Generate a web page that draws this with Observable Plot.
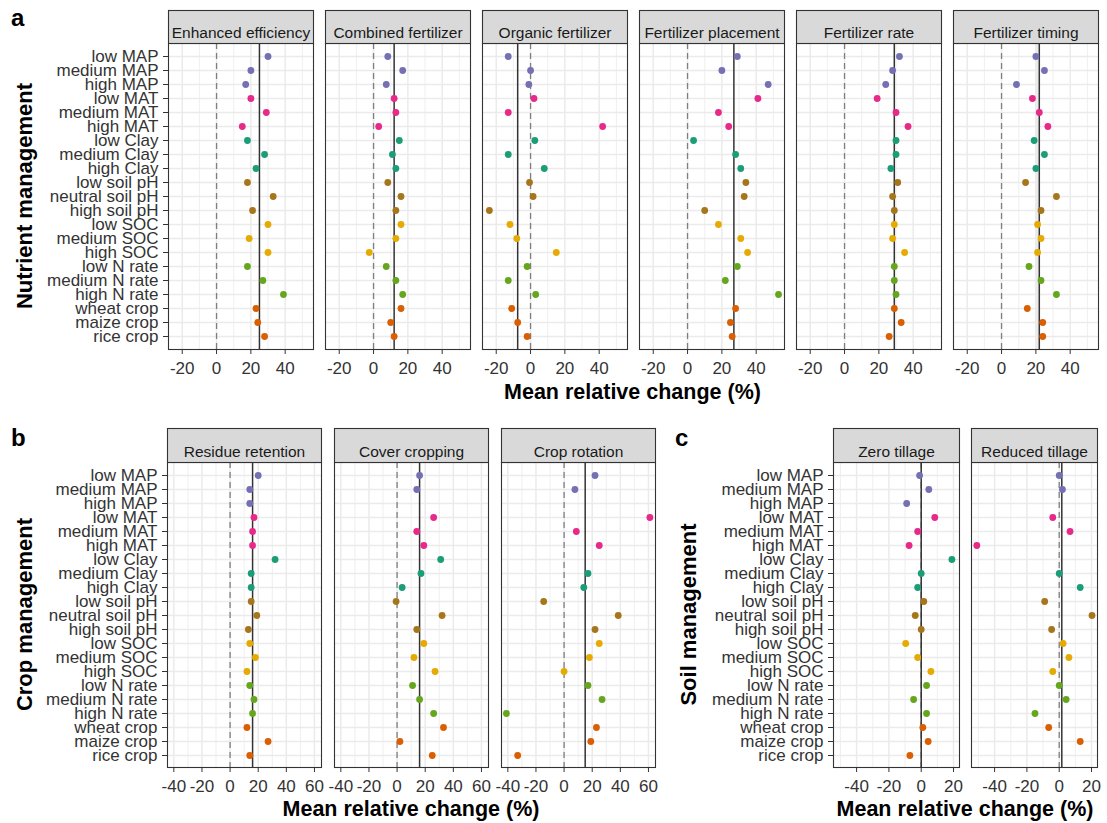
<!DOCTYPE html>
<html><head><meta charset="utf-8">
<script src="https://cdn.jsdelivr.net/npm/d3@7"></script>
<script src="https://cdn.jsdelivr.net/npm/@observablehq/plot@0.6"></script>
<style>
body{margin:0;background:#fff;}
#root{position:relative;width:1107px;height:823px;background:#fff;overflow:hidden;font-family:"Liberation Sans",Arial,sans-serif;}
.panel{position:absolute;}
#overlay{position:absolute;left:0;top:0;pointer-events:none;}
#overlay text{font-family:"Liberation Sans",Arial,sans-serif;font-weight:bold;fill:#000;}
</style></head><body>
<div id="root">
  <div class="panel" id="pa" style="left:0;top:0"></div>
  <div class="panel" id="pb" style="left:0;top:418px"></div>
  <div class="panel" id="pc" style="left:665px;top:418px"></div>
  <svg id="overlay" width="1107" height="823">
    <text x="11" y="26" font-size="24">a</text>
    <text x="11" y="446" font-size="24">b</text>
    <text x="675" y="446" font-size="24">c</text>
    <text transform="translate(32,196) rotate(-90)" text-anchor="middle" font-size="22">Nutrient management</text>
    <text transform="translate(32,614.5) rotate(-90)" text-anchor="middle" font-size="22">Crop management</text>
    <text transform="translate(696,614.5) rotate(-90)" text-anchor="middle" font-size="22">Soil management</text>
    <text x="632.5" y="399" text-anchor="middle" font-size="21.5">Mean relative change (%)</text>
    <text x="411" y="816" text-anchor="middle" font-size="21.5">Mean relative change (%)</text>
    <text x="965" y="816" text-anchor="middle" font-size="21.5">Mean relative change (%)</text>
  </svg>
</div>
<script>
// ---- categories ----
const rowLabels = ["low MAP","medium MAP","high MAP","low MAT","medium MAT","high MAT","low Clay","medium Clay","high Clay","low soil pH","neutral soil pH","high soil pH","low SOC","medium SOC","high SOC","low N rate","medium N rate","high N rate","wheat crop","maize crop","rice crop"];
const rowGroups = ["MAP","MAP","MAP","MAT","MAT","MAT","Clay","Clay","Clay","soil pH","soil pH","soil pH","SOC","SOC","SOC","N rate","N rate","N rate","crop","crop","crop"];
const groupNames = ["MAP","MAT","Clay","soil pH","SOC","N rate","crop"];

// ---- a: nutrient management ----
const nutrientFacets = ["Enhanced efficiency","Combined fertilizer","Organic fertilizer","Fertilizer placement","Fertilizer rate","Fertilizer timing"];
const enhancedEfficiency = [30,20,17,20,29,15,18,28,23,18,33,21,30,19,30,18,27,39,23,24,28];
const combinedFertilizer = [8.3,17,7.4,12,13,3,15,11,13,8.3,16,13,16,13,-2.5,7.4,13,17,16,10,12];
const organicFertilizer = [-13,0,-1,2,-13,42,2.5,-13,8,-0.6,1.5,-24,-12,-8,15,-2,-13,3,-11,-7.5,-2];
const fertilizerPlacement = [29,20,47,41,18,24,3.5,28,31,34,33,10,18,31,35,29,22,53,28,25,26];
const fertilizerRate = [32,28,24,19,30,37,30,30,27,31,28,29,29,28,35,29,29,30,29,33,26];
const fertilizerTiming = [20,25,8.7,18,22,27,19,25,20,14,32,23,21,23,21,16,23,32,15,24,24];
const nutrientMeans = [25,12,-7.5,27,29,22];
const timingInterval = [20,22];
const nutrientTicks = [-20,0,20,40];

// ---- b: crop management ----
const cropFacets = ["Residue retention","Cover cropping","Crop rotation"];
const residueRetention = [20,14,14,17,16,16,32,15,15,15,19,13,14,18,12,14,17,16,12,27,14];
const coverCropping = [16,14,null,26,14,19,31,17,3.6,-0.7,32,14,19,12,27,11,16,26,33,2,25];
const cropRotation = [22,7.7,null,61,8.7,25,null,17,14,-14.5,38.5,22,25,18,0,17,27,-41,23,19,-33];
const cropMeans = [16,16,15];
const cropTicks = [-40,-20,0,20,40,60];

// ---- c: soil management ----
const soilFacets = ["Zero tillage","Reduced tillage"];
const zeroTillage = [-1,4.7,-9,8.4,-2.2,-7.5,19,0,-2.2,1.6,-3.7,0,-9.6,-2.2,6,3.3,-4.7,3.3,1,4.3,-7];
const reducedTillage = [0,2,null,-4,6.7,-51,null,0,13,-9,20.3,-4.7,2.4,6,-4,0,4.3,-15,-6.5,13,null];
const soilMeans = [0,1.6];
const soilTicks = [-40,-20,0,20];

const dark2 = ["#7570B3","#E7298A","#1B9E77","#A6761D","#E6AB02","#66A61E","#D95F02"];

function buildTable(facets, series) {
  const out = [];
  facets.forEach((f, i) => series[i].forEach((v, j) => {
    if (v != null) out.push({facet: f, row: rowLabels[j], group: rowGroups[j], value: v});
  }));
  return out;
}

function drawPanel(el, cfg) {
  const data = buildTable(cfg.facets, cfg.series);
  const meanData = cfg.facets.map((f, i) => ({facet: f, mean: cfg.means[i]}));
  const plotH = cfg.height - cfg.marginTop - cfg.marginBottom;
  const t0 = cfg.ticks[0], t1 = cfg.ticks[cfg.ticks.length - 1], st = cfg.ticks[1] - cfg.ticks[0];
  const minor = [];
  for (let v = t0 - st / 2; v <= t1 + st / 2; v += st) if (v > cfg.domain[0] && v < cfg.domain[1]) minor.push(v);
  const chart = Plot.plot({
    width: cfg.width, height: cfg.height,
    marginLeft: cfg.marginLeft, marginRight: cfg.marginRight,
    marginTop: cfg.marginTop, marginBottom: cfg.marginBottom,
    style: {fontFamily: '"Liberation Sans", Arial, sans-serif', fontSize: "17px", color: "#333", background: "transparent", overflow: "visible"},
    x: {domain: cfg.domain, label: null},
    y: {type: "point", domain: rowLabels, padding: 0.57, label: null},
    fx: {domain: cfg.facets, paddingInner: cfg.paddingInner, paddingOuter: 0, axis: null, label: null},
    color: {domain: groupNames, range: dark2},
    marks: [
      Plot.gridX(minor, {stroke: "#ebebeb", strokeOpacity: 1, strokeWidth: 0.8}),
      Plot.gridX(cfg.ticks, {stroke: "#ebebeb", strokeOpacity: 1, strokeWidth: 1.5}),
      Plot.gridY({stroke: "#ebebeb", strokeOpacity: 1, strokeWidth: 1.5}),
      ...(cfg.extra || []),
      Plot.ruleX([0], {stroke: "#7f7f7f", strokeWidth: 1.3, strokeDasharray: "6,4"}),
      Plot.ruleX(meanData, {x: "mean", fx: "facet", stroke: "#333", strokeWidth: 1.5}),
      Plot.dot(data, {x: "value", y: "row", fx: "facet", fill: "group", r: 3.4}),
      Plot.frame({stroke: "#333", strokeWidth: 1.1}),
      Plot.frame({fill: "#d9d9d9", stroke: "#333", strokeWidth: 1.1, insetTop: -cfg.strip, insetBottom: plotH}),
      Plot.text(cfg.facets, {fx: d => d, text: d => d, frameAnchor: "top", dy: -cfg.strip / 2, fontSize: 15.5, fill: "#1a1a1a"}),
      Plot.axisX(cfg.ticks, {tickSize: 5, tickPadding: 7, fontSize: 17, label: null, color: "#333", tickFormat: d => String(d)}),
      Plot.axisY({tickSize: 5, tickPadding: 5, fontSize: 17, label: null, color: "#333"})
    ]
  });
  el.appendChild(chart);
}

drawPanel(document.getElementById("pa"), {
  facets: nutrientFacets,
  series: [enhancedEfficiency, combinedFertilizer, organicFertilizer, fertilizerPlacement, fertilizerRate, fertilizerTiming],
  means: nutrientMeans, domain: [-28, 56.5], ticks: nutrientTicks,
  width: 1107, height: 380, marginLeft: 167, marginRight: 9, marginTop: 43, marginBottom: 31,
  paddingInner: 0.078, strip: 33,
  extra: [Plot.rect([{facet: "Fertilizer timing", x1: timingInterval[0], x2: timingInterval[1]}], {x1: "x1", x2: "x2", fx: "facet", fill: "#ebebeb"})]
});

drawPanel(document.getElementById("pb"), {
  facets: cropFacets,
  series: [residueRetention, coverCropping, cropRotation],
  means: cropMeans, domain: [-44.5, 65], ticks: cropTicks,
  width: 665, height: 380, marginLeft: 167, marginRight: 10, marginTop: 44, marginBottom: 31,
  paddingInner: 0.078, strip: 34
});

drawPanel(document.getElementById("pc"), {
  facets: soilFacets,
  series: [zeroTillage, reducedTillage],
  means: soilMeans, domain: [-54.3, 23.7], ticks: soilTicks,
  width: 442, height: 380, marginLeft: 167, marginRight: 9, marginTop: 44, marginBottom: 31,
  paddingInner: 0.086, strip: 34
});
</script>
</body></html>
